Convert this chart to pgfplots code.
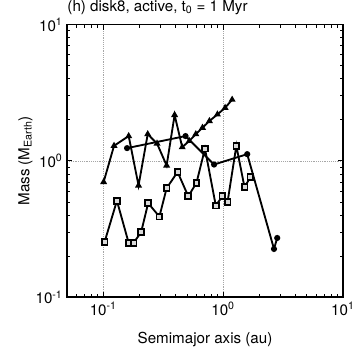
\documentclass[border=0pt]{standalone}
\usepackage{fontspec}
\setmainfont{TeX Gyre Heros}
\usepackage{pgfplots}
\pgfplotsset{compat=1.18}

\begin{document}
\begin{tikzpicture}[font=\fontsize{11.5}{13}\selectfont]
\begin{axis}[
  at={(0,0)}, anchor=south west,
  scale only axis, width=209.25pt, height=207pt,
  xmode=log, ymode=log,
  xmin=0.05, xmax=10, ymin=0.1, ymax=10,
  xtick={0.1,1,10}, ytick={0.1,1,10},
  minor xtick={0.06,0.07,0.08,0.09,0.2,0.3,0.4,0.5,0.6,0.7,0.8,0.9,2,3,4,5,6,7,8,9},
  minor ytick={0.2,0.3,0.4,0.5,0.6,0.7,0.8,0.9,2,3,4,5,6,7,8,9},
  xticklabels={10\textsuperscript{-1},10\textsuperscript{0},10\textsuperscript{1}},
  yticklabels={10\textsuperscript{-1},10\textsuperscript{0},10\textsuperscript{1}},
  tick label style={font=\fontsize{11.5}{13}\selectfont},
  label style={font=\fontsize{11.5}{13}\selectfont},
  tick align=inside, major tick length=4pt, minor tick length=2.5pt,
  tick style={black, line width=0.6pt},
  xmajorgrids, ymajorgrids,
  major grid style={densely dotted, gray!70, line width=0.5pt},
  axis line style={line width=1.2pt},
  xlabel={Semimajor axis (au)}, ylabel={Mass (M\textsubscript{Earth})},
  xlabel style={yshift=-6pt}, ylabel style={yshift=-4.5pt},
  title={(h) disk8, active, t\textsubscript{0} = 1 Myr},
  title style={at={(0,1)}, anchor=south west, inner sep=0pt, yshift=1.5pt,
    font=\fontsize{11.5}{13}\selectfont},
  every axis plot/.append style={black, line width=1.4pt},
]
% triangles
\addplot[mark=triangle*, mark size=1.7pt] coordinates {
(0.1007,0.70)(0.123,1.29)(0.163,1.52)(0.197,0.66)(0.235,1.57)(0.281,1.34)
(0.338,0.925)(0.394,2.17)(0.456,1.26)(0.522,1.40)(0.592,1.57)(0.673,1.75)
(0.769,1.96)(0.897,2.19)(1.04,2.45)(1.19,2.81)};
% dots
\addplot[mark=*, mark size=1.6pt] coordinates {
(0.158,1.24)(0.486,1.52)(0.841,0.94)(1.59,1.12)(2.66,0.226)(2.83,0.272)};
% squares
\addplot[mark=square*, mark size=2.2pt, mark options={fill=gray!30, line width=1.4pt}] coordinates {
(0.1027,0.255)(0.130,0.51)(0.163,0.25)(0.179,0.25)(0.207,0.30)(0.237,0.49)
(0.294,0.39)(0.338,0.63)(0.417,0.83)(0.512,0.55)(0.60,0.69)(0.706,1.23)
(0.869,0.47)(0.987,0.55)(1.09,0.50)(1.29,1.29)(1.51,0.64)(1.69,0.76)};
\end{axis}
\useasboundingbox (-51pt,-42pt) rectangle (218.25pt,221.25pt);
\end{tikzpicture}
\end{document}
